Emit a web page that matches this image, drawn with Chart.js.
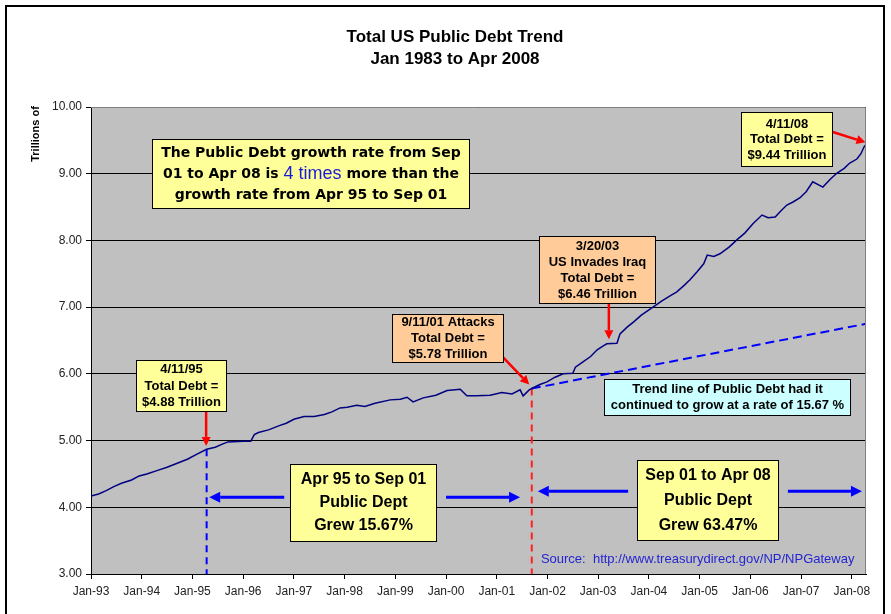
<!DOCTYPE html>
<html>
<head>
<meta charset="utf-8">
<script src="https://cdn.jsdelivr.net/npm/chart.js"></script>
<style>
  html, body { margin: 0; padding: 0; background: #fff; }
  #wrap { width: 891px; height: 614px; }
</style>
</head>
<body>
<div id="wrap"><canvas id="chart" width="891" height="614"></canvas></div>
<script>
// ---------------- data ----------------
// dates as fractional years, values in trillions of dollars
const debtDates = [
  1993.00, 1993.15, 1993.30, 1993.45, 1993.60, 1993.80, 1993.95, 1994.10, 1994.30, 1994.50,
  1994.70, 1994.90, 1995.10, 1995.28, 1995.45, 1995.60, 1995.70, 1996.00, 1996.15, 1996.22,
  1996.30, 1996.50, 1996.70, 1996.85, 1997.00, 1997.20, 1997.40, 1997.60, 1997.75, 1997.91,
  1998.05, 1998.24, 1998.40, 1998.60, 1998.90, 1999.10, 1999.23, 1999.35, 1999.55, 1999.80,
  2000.02, 2000.28, 2000.41, 2000.60, 2000.87, 2001.10, 2001.30, 2001.46, 2001.52, 2001.64,
  2001.69, 2001.85, 2001.99, 2002.15, 2002.31, 2002.50, 2002.55, 2002.70, 2002.85, 2002.98,
  2003.10, 2003.17, 2003.37, 2003.43, 2003.57, 2003.70, 2003.85, 2004.08, 2004.25, 2004.40,
  2004.55, 2004.70, 2004.81, 2004.95, 2005.08, 2005.15, 2005.28, 2005.40, 2005.58, 2005.75,
  2005.89, 2006.05, 2006.23, 2006.35, 2006.49, 2006.60, 2006.72, 2006.85, 2006.98, 2007.10,
  2007.23, 2007.43, 2007.58, 2007.71, 2007.85, 2007.96, 2008.10, 2008.18, 2008.24, 2008.28
];
const debtValues = [
  4.17, 4.20, 4.25, 4.31, 4.36, 4.41, 4.47, 4.50, 4.55, 4.60,
  4.66, 4.72, 4.80, 4.87, 4.90, 4.95, 4.98, 4.99, 4.99, 5.09,
  5.12, 5.16, 5.22, 5.26, 5.32, 5.36, 5.36, 5.39, 5.43, 5.49,
  5.50, 5.53, 5.51, 5.56, 5.61, 5.62, 5.65, 5.58, 5.64, 5.68,
  5.75, 5.77, 5.67, 5.67, 5.68, 5.72, 5.70, 5.76, 5.67, 5.76,
  5.78, 5.84, 5.88, 5.95, 6.00, 6.01, 6.10, 6.18, 6.26, 6.36,
  6.42, 6.45, 6.46, 6.60, 6.70, 6.78, 6.88, 7.00, 7.09, 7.16,
  7.23, 7.33, 7.41, 7.53, 7.65, 7.78, 7.76, 7.80, 7.90, 8.02,
  8.11, 8.25, 8.38, 8.34, 8.35, 8.44, 8.53, 8.58, 8.64, 8.73,
  8.88, 8.80, 8.92, 9.01, 9.08, 9.16, 9.22, 9.30, 9.40, 9.44
];

// trend line had debt kept growing at the 95-01 rate
const trendDates = [2001.69, 2008.28];
const trendValues = [5.78, 6.75];

// the two marked dates (4/11/95 and 9/11/01)
const markerDates = [1995.28, 2001.69];
const markerValues = [4.87, 5.78];

const yearTicks = [1993, 1994, 1995, 1996, 1997, 1998, 1999, 2000, 2001, 2002, 2003, 2004, 2005, 2006, 2007, 2008];
const yearLabels = ["Jan-93", "Jan-94", "Jan-95", "Jan-96", "Jan-97", "Jan-98", "Jan-99", "Jan-00",
                    "Jan-01", "Jan-02", "Jan-03", "Jan-04", "Jan-05", "Jan-06", "Jan-07", "Jan-08"];

const FONT = "'Liberation Sans', Arial, sans-serif";

// ---------------- callouts (anchored in data units) ----------------
const YELLOW = "#FFFF99", ORANGE = "#FFCC99", CYAN = "#CCFFFF";

const callouts = [
  { t: 1994.20, v: 9.52, w: 317, h: 69, fill: YELLOW, lineH: 21, font: "bold 14px 'DejaVu Sans', Verdana, sans-serif",
    lines: ["The Public Debt growth rate from Sep",
            [["01 to Apr 08 is ", null], ["4 times", "18px " + FONT, "#1a1ad8"], [" more than the", null]],
            "growth rate from Apr 95 to Sep 01"] },
  { t: 2005.82, v: 9.93, w: 91, h: 54, fill: YELLOW, lineH: 15.5, font: "bold 13px " + FONT,
    lines: ["4/11/08", "Total Debt =", "$9.44 Trillion"] },
  { t: 2001.83, v: 8.07, w: 116, h: 67, fill: ORANGE, lineH: 16, font: "bold 13px " + FONT,
    lines: ["3/20/03", "US Invades Iraq", "Total Debt =", "$6.46 Trillion"] },
  { t: 1998.93, v: 6.90, w: 111, h: 48, fill: ORANGE, lineH: 16, font: "bold 13px " + FONT,
    lines: ["9/11/01 Attacks", "Total Debt =", "$5.78 Trillion"] },
  { t: 1993.89, v: 6.21, w: 90, h: 51, fill: YELLOW, lineH: 16.5, font: "bold 13px " + FONT,
    lines: ["4/11/95", "Total Debt =", "$4.88 Trillion"] },
  { t: 2003.11, v: 5.92, w: 246, h: 36, fill: CYAN, lineH: 16, font: "bold 13px " + FONT,
    lines: ["Trend line of Public Debt had it", "continued to grow at a rate of 15.67 %"] },
  { t: 1996.92, v: 4.65, w: 146, h: 77, fill: YELLOW, lineH: 23, font: "bold 16px " + FONT,
    lines: ["Apr 95 to Sep 01", "Public Dept", "Grew 15.67%"] },
  { t: 2003.76, v: 4.71, w: 141, h: 80, fill: YELLOW, lineH: 25, font: "bold 16px " + FONT,
    lines: ["Sep 01 to Apr 08", "Public Dept", "Grew 63.47%"] }
];

const arrows = [
  { from: [2007.61, 9.63], to: [2008.27, 9.47], color: "#ff0000", width: 2.5, head: 9 },
  { from: [2003.21, 7.06], to: [2003.21, 6.52], color: "#ff0000", width: 2.5, head: 9 },
  { from: [2001.06, 6.30], to: [2001.64, 5.84], color: "#ff0000", width: 2.5, head: 9 },
  { from: [1995.27, 5.44], to: [1995.27, 4.92], color: "#ff0000", width: 2.5, head: 9 },
  { from: [1996.81, 4.15], to: [1995.33, 4.15], color: "#0000ff", width: 3, head: 11 },
  { from: [2000.00, 4.15], to: [2001.46, 4.15], color: "#0000ff", width: 3, head: 11 },
  { from: [2003.59, 4.24], to: [2001.81, 4.24], color: "#0000ff", width: 3, head: 11 },
  { from: [2006.74, 4.24], to: [2008.20, 4.24], color: "#0000ff", width: 3, head: 11 }
];

const sourceNote = { t: 2001.87, v: 3.22, text: "Source:  http://www.treasurydirect.gov/NP/NPGateway" };

// ---------------- helpers ----------------
function drawArrow(ctx, x1, y1, x2, y2, color, width, head) {
  const a = Math.atan2(y2 - y1, x2 - x1);
  const bx = x2 - head * Math.cos(a), by = y2 - head * Math.sin(a);
  ctx.save();
  ctx.strokeStyle = color;
  ctx.fillStyle = color;
  ctx.lineWidth = width;
  ctx.beginPath();
  ctx.moveTo(x1, y1);
  ctx.lineTo(bx, by);
  ctx.stroke();
  const hw = head * 0.5;
  ctx.beginPath();
  ctx.moveTo(x2, y2);
  ctx.lineTo(bx + hw * Math.sin(a), by - hw * Math.cos(a));
  ctx.lineTo(bx - hw * Math.sin(a), by + hw * Math.cos(a));
  ctx.closePath();
  ctx.fill();
  ctx.restore();
}

function drawLine(ctx, line, font, cx, y) {
  const segs = typeof line === "string" ? [[line, null]] : line;
  let total = 0;
  segs.forEach(s => { ctx.font = s[1] || font; total += ctx.measureText(s[0]).width; });
  let x = cx - total / 2;
  segs.forEach(s => {
    ctx.font = s[1] || font;
    ctx.fillStyle = s[2] || "#000";
    ctx.fillText(s[0], x, y);
    x += ctx.measureText(s[0]).width;
  });
}

// background, frame and titles
const decorPlugin = {
  id: "decor",
  beforeDraw(chart) {
    const { ctx, chartArea: a } = chart;
    ctx.save();
    ctx.fillStyle = "#fff";
    ctx.fillRect(0, 0, chart.width, chart.height);
    ctx.fillStyle = "#c0c0c0";
    ctx.fillRect(a.left, a.top, a.right - a.left, a.bottom - a.top);
    ctx.strokeStyle = "#000";
    ctx.lineWidth = 2;
    ctx.strokeRect(6, 6, 878, 640);
    ctx.restore();
  },
  afterDraw(chart) {
    const { ctx, chartArea: a } = chart;
    ctx.save();
    ctx.strokeStyle = "#808080";
    ctx.lineWidth = 1;
    ctx.beginPath();
    ctx.moveTo(a.left, a.top + 0.5);
    ctx.lineTo(a.right - 0.5, a.top + 0.5);
    ctx.lineTo(a.right - 0.5, a.bottom);
    ctx.stroke();

    ctx.fillStyle = "#000";
    ctx.textAlign = "center";
    ctx.textBaseline = "middle";
    ctx.font = "bold 17px " + FONT;
    ctx.fillText("Total US Public Debt Trend", 455, 37);
    ctx.fillText("Jan 1983 to Apr 2008", 455, 59);

    ctx.translate(36, 134);
    ctx.rotate(-Math.PI / 2);
    ctx.font = "bold 11px " + FONT;
    ctx.fillText("Trillions of", 0, 0);
    ctx.restore();
  }
};

// callout boxes, arrows and source note
const calloutPlugin = {
  id: "callouts",
  afterDatasetsDraw(chart) {
    const { ctx } = chart;
    const xs = chart.scales.x, ys = chart.scales.y;
    ctx.save();
    arrows.forEach(ar => {
      drawArrow(ctx, xs.getPixelForValue(ar.from[0]), ys.getPixelForValue(ar.from[1]),
                xs.getPixelForValue(ar.to[0]), ys.getPixelForValue(ar.to[1]), ar.color, ar.width, ar.head);
    });
    callouts.forEach(c => {
      const x = Math.round(xs.getPixelForValue(c.t)) + 0.5;
      const y = Math.round(ys.getPixelForValue(c.v)) + 0.5;
      ctx.fillStyle = c.fill;
      ctx.fillRect(x, y, c.w, c.h);
      ctx.strokeStyle = "#000";
      ctx.lineWidth = 1;
      ctx.strokeRect(x, y, c.w, c.h);
      ctx.textAlign = "left";
      ctx.textBaseline = "middle";
      const cy = y + c.h / 2 - (c.lines.length - 1) * c.lineH / 2;
      c.lines.forEach((ln, i) => drawLine(ctx, ln, c.font, x + c.w / 2, cy + i * c.lineH));
    });
    ctx.font = "13px " + FONT;
    ctx.fillStyle = "#2424d0";
    ctx.textAlign = "left";
    ctx.textBaseline = "middle";
    ctx.fillText(sourceNote.text, xs.getPixelForValue(sourceNote.t), ys.getPixelForValue(sourceNote.v));
    ctx.restore();
  }
};

const toPoints = (xsArr, ysArr) => xsArr.map((x, i) => ({ x: x, y: ysArr[i] }));

new Chart(document.getElementById("chart"), {
  type: "line",
  data: {
    datasets: [
      { data: toPoints(debtDates, debtValues), borderColor: "#000080", borderWidth: 1.5,
        pointRadius: 0, tension: 0, order: 1 },
      { data: toPoints(trendDates, trendValues), borderColor: "#0000ff", borderWidth: 2,
        borderDash: [9, 5], pointRadius: 0, order: 2 },
      { data: [{ x: markerDates[0], y: markerValues[0] }, { x: markerDates[0], y: 3 }],
        borderColor: "#0000ff", borderWidth: 2, borderDash: [7, 5], pointRadius: 0, order: 3 },
      { data: [{ x: markerDates[1], y: markerValues[1] }, { x: markerDates[1], y: 3 }],
        borderColor: "#ff2020", borderWidth: 2, borderDash: [7, 5], pointRadius: 0, order: 3 }
    ]
  },
  options: {
    responsive: false,
    devicePixelRatio: 1,
    animation: false,
    layout: { padding: { left: 41, right: 25, top: 107, bottom: 0 } },
    plugins: { legend: { display: false }, tooltip: { enabled: false }, title: { display: false } },
    scales: {
      x: {
        type: "linear", min: 1993, max: 2008.28,
        afterBuildTicks: s => { s.ticks = yearTicks.map(v => ({ value: v })); },
        afterFit: s => { s.height = 40; },
        ticks: {
          autoSkip: false, maxRotation: 0, padding: 5, color: "#222",
          font: { family: FONT, size: 12 },
          callback: v => yearLabels[yearTicks.indexOf(v)]
        },
        grid: { drawOnChartArea: false, drawTicks: true, tickLength: 5, color: "#000" },
        border: { color: "#000", width: 1 }
      },
      y: {
        min: 3, max: 10,
        afterFit: s => { s.width = 50; },
        ticks: {
          stepSize: 1, padding: 4, color: "#222",
          font: { family: FONT, size: 12 },
          callback: v => v.toFixed(2)
        },
        grid: { color: "#000", lineWidth: 1, tickLength: 5 },
        border: { color: "#000", width: 1 }
      }
    }
  },
  plugins: [decorPlugin, calloutPlugin]
});
</script>
</body>
</html>
